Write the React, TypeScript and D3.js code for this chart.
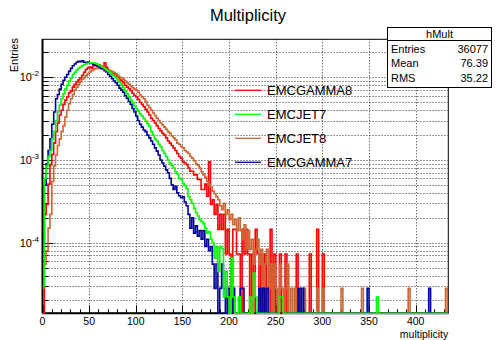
import React from 'react';
import * as d3 from 'd3';

const W = 496;
const H = 340;
const UNIT = 1e-4; // values below are in units of 1e-4
const BIN_WIDTH = 2;
const X_MAX = 435;
const Y_MIN = 1.4e-5;
const Y_MAX = 0.0288;

const categories = ['EMCGAMMA8', 'EMCJET7', 'EMCJET8', 'EMCGAMMA7'];
const xTickValues = [0, 50, 100, 150, 200, 250, 300, 350, 400];
const yMajorTicks = [1e-4, 1e-3, 1e-2];
const yTickLabels = ['-4', '-3', '-2'];
const statsRows = [['Entries', '36077'], ['Mean', '76.39'], ['RMS', '35.22']];

// EMCGAMMA8 (red), 2-unit bins from 0
const gamma8Values = [
  0, 2.2, 2.9, 5.1, 8.8, 11.7, 16, 22, 28, 35,
  40, 47, 53, 58, 65, 68, 76, 82, 88, 93,
  98, 106, 115, 124, 130, 133, 128, 138, 141, 136,
  142, 137, 134, 150, 132, 122, 117, 113, 110, 105,
  100, 94, 90, 86, 80, 76, 73, 69, 64, 60,
  58, 54, 50, 47, 44, 41, 38, 35, 32, 30,
  28, 26, 24, 22.5, 21, 20, 18.5, 17, 16, 15,
  14, 13, 12, 11, 10.5, 9.5, 9.2, 8.8, 8.0, 7.3,
  7.3, 6.6, 6.6, 5.8, 5.8, 4.4, 4.4, 5.1, 3.65, 9.5,
  2.9, 3.3, 2.2, 2.9, 1.45, 2.2, 1.45, 2.2, 0.73, 1.45,
  0.73, 0, 1.45, 1.45, 0.73, 0.73, 0, 1.45, 0.73, 1.45,
  0.73, 0, 0.73, 0, 1.45, 0.73, 0, 0.73, 0, 0.73,
  0, 0, 1.45, 0, 0.73, 0, 0, 0.73, 0, 0,
  0.73, 0, 0, 0, 0, 0, 0.73, 0, 0, 0,
  0, 0, 0, 0.73, 0, 0, 0, 1.45, 0, 0,
  0.73,
];

// EMCJET7 (green)
const jet7Values = [
  0.3, 6, 8.5, 11, 13, 18, 22, 30, 38, 46,
  55, 63, 72, 80, 90, 98, 108, 115, 122, 128,
  133, 138, 142, 145, 148, 149, 150, 149, 147, 145,
  140, 136, 132, 127, 122, 118, 113, 108, 104, 99,
  93, 87, 81, 75, 68, 63, 58, 53, 49, 45,
  42, 39, 36, 34, 31.5, 29.5, 27.5, 25.5, 22, 20,
  18, 17, 15.5, 14.5, 13, 12, 11, 10, 9.2, 8.6,
  8.0, 7.2, 6.8, 6.0, 5.8, 5.2, 4.9, 4.5, 3.6, 3.3,
  3.0, 2.6, 2.3, 2.1, 1.9, 1.8, 1.7, 1.5, 1.3, 1.35,
  1.1, 1.0, 0.65, 0.9, 0.45, 0.9, 0.85, 0.22, 0.45, 0.22,
  0, 0.65, 0.22, 0, 0, 0.22, 0, 0, 0, 0,
  0, 0.22, 0, 0.43, 0.22, 0, 0, 0, 0, 0,
  0, 0, 0, 0, 0, 0, 0, 0.22, 0.22,
];

// EMCJET8 (orange)
const jet8Values = [
  0.28, 0.55, 0.8, 1.5, 2.2, 5.5, 8.5, 11.5, 15, 18,
  22, 26, 33, 40, 48, 55, 62, 70, 76, 82,
  88, 95, 99, 104, 110, 116, 120, 124, 127, 129,
  128, 130, 128, 127, 125, 123, 120, 117, 114, 111,
  106, 101, 98, 95, 90, 86, 83, 79, 75, 72,
  70, 66, 61, 58, 55, 51, 46, 43, 40, 37,
  34.5, 32, 30, 28, 26.5, 25, 23.5, 22, 21, 19.5,
  18.5, 17.5, 16, 15.5, 14.5, 14, 13, 12.5, 12, 11,
  10.5, 9.8, 9.0, 8.6, 8.0, 7.2, 6.6, 6.2, 5.5, 5.0,
  4.7, 4.2, 3.9, 3.6, 3.3, 2.8, 2.5, 3.0, 2.2, 2.5,
  1.9, 2.2, 1.65, 1.9, 1.4, 2.0, 1.4, 1.1, 1.65, 0.83,
  1.4, 0.83, 1.1, 0.55, 0.83, 1.1, 0.55, 0.83, 0.28, 0.55,
  0.83, 0.28, 0.55, 0, 0.55, 0.28, 0, 0.55, 0.28, 0,
  0.28, 0.55, 0, 0.28, 0, 0.28, 0, 0.28, 0, 0,
  0.28,
];

// EMCGAMMA7 (blue)
const gamma7Values = [
  1.0, 5, 9, 13, 18, 27, 38, 55, 62, 72,
  82, 92, 100, 108, 118, 128, 138, 145, 152, 156,
  154, 158, 152, 150, 153, 147, 148, 143, 140, 137,
  134, 128, 126, 120, 116, 108, 103, 96, 90, 86,
  80, 74, 70, 66, 60, 56, 51, 47, 42, 38,
  34, 30, 27, 25, 23, 22, 20, 18.5, 17, 15.5,
  14, 12.8, 11.5, 10, 9.2, 8.4, 7.6, 7.0, 6.0, 5.0,
  4.4, 4.8, 4.0, 3.7, 3.5, 3.6, 3.1, 2.8, 2.2, 1.5,
  2.0, 1.3, 1.6, 1.2, 1.4, 1.1, 1.4, 0.9, 1.1, 0.8,
  0.9, 0.55, 0.28, 0.55, 0, 0.28, 0.55, 0.28, 0, 0.28,
  0, 0, 0.28, 0, 0, 0, 0.28, 0.28, 0, 0,
  0, 0, 0, 0, 0, 0, 0.28, 0, 0.28, 0,
  0.28, 0, 0, 0, 0, 0, 0, 0, 0, 0,
  0, 0, 0, 0, 0, 0, 0, 0.28, 0, 0.28,
];

// isolated far-tail entries: [multiplicity, value]
const gamma8Spikes: [number, number][] = [];
const jet7Spikes: [number, number][] = [[358, 0.22]];
const jet8Spikes: [number, number][] = [[294, 0.28], [300, 0.28], [320, 0.28], [342, 0.28], [392, 0.28], [432, 0.28]];
const gamma7Spikes: [number, number][] = [[348, 0.28], [414, 0.28]];

const colors = ['#ff0000', '#00ff00', '#cc6633', '#000099'];

const seriesList = [
  { name: categories[0], values: gamma8Values, spikes: gamma8Spikes, color: colors[0] },
  { name: categories[1], values: jet7Values, spikes: jet7Spikes, color: colors[1] },
  { name: categories[2], values: jet8Values, spikes: jet8Spikes, color: colors[2] },
  { name: categories[3], values: gamma7Values, spikes: gamma7Spikes, color: colors[3] },
];
const drawOrder = [0, 2, 3, 1];

const FONT = '"Liberation Sans", Arial, Helvetica, sans-serif';

export default function App() {
  const left = 42.5, right = 448.3, top = 39.3, bottom = 313.3;
  const x = d3.scaleLinear().domain([0, X_MAX]).range([left, right]);
  const y = d3.scaleLog().domain([Y_MIN, Y_MAX]).range([bottom, top]);

  const nBins = Math.ceil(X_MAX / BIN_WIDTH);
  const binValues = (s: typeof seriesList[number]) => {
    const arr = d3.range(nBins).map((i) => s.values[i] ?? 0);
    s.spikes.forEach(([m, v]) => { arr[Math.floor(m / BIN_WIDTH)] = v; });
    return arr;
  };
  const histPath = (arr: number[]) => {
    let d = '';
    arr.forEach((raw, i) => {
      const v = raw * UNIT;
      const yy = v > Y_MIN ? y(v) : bottom;
      const x0 = x(i * BIN_WIDTH);
      const x1 = x((i + 1) * BIN_WIDTH);
      d += (i === 0 ? `M${x0},${yy}` : `L${x0},${yy}`) + `L${x1},${yy}`;
    });
    return d;
  };

  const yMinor: number[] = [];
  for (let e = -5; e <= -1; e++) {
    for (let k = 1; k <= 9; k++) {
      const v = k * Math.pow(10, e);
      if (v > Y_MIN && v < Y_MAX) yMinor.push(v);
    }
  }
  const xMinor = d3.range(0, X_MAX + 1, 10);

  const legendY0 = 90.3;
  const legendStep = 24;

  return (
    <svg width={W} height={H} style={{ position: 'absolute', left: 0, top: 0, background: '#fff' }}
      fontFamily={FONT}>
      <rect x={0} y={0} width={W} height={H} fill="#fff" />
      <defs>
        <clipPath id="plotClip">
          <rect x={left} y={top} width={right - left} height={bottom - top + 1} />
        </clipPath>
      </defs>
      {/* grid */}
      <g stroke="#000" strokeWidth={1} strokeDasharray="1,2" opacity={0.8}>
        {yMinor.map((v) => (
          <line key={'gy' + v} x1={left} x2={right} y1={Math.round(y(v)) + 0.5} y2={Math.round(y(v)) + 0.5} />
        ))}
        {xTickValues.filter((t) => t > 0).map((t) => (
          <line key={'gx' + t} x1={Math.round(x(t)) + 0.5} x2={Math.round(x(t)) + 0.5} y1={top} y2={bottom} />
        ))}
      </g>
      {/* axes ticks */}
      <g stroke="#000" strokeWidth={1}>
        {yMinor.map((v) => {
          const major = yMajorTicks.some((m) => Math.abs(m - v) / v < 1e-6);
          const yy = Math.round(y(v)) + 0.5;
          return <line key={'ty' + v} x1={left} x2={left + (major ? 11 : 6)} y1={yy} y2={yy} />;
        })}
        {xMinor.map((t) => {
          const major = t % 50 === 0;
          const xx = Math.round(x(t)) + 0.5;
          return <line key={'tx' + t} x1={xx} x2={xx} y1={bottom} y2={bottom - (major ? 8 : 4)} />;
        })}
      </g>
      <rect x={left} y={top} width={right - left} height={bottom - top} fill="none" stroke="#000" strokeWidth={1} />
      <line x1={left} x2={left} y1={top} y2={bottom} stroke="#000" strokeWidth={2} />
      <line x1={left} x2={right} y1={bottom} y2={bottom} stroke="#000" strokeWidth={2} />

      {/* histograms */}
      <g clipPath="url(#plotClip)" fill="none" strokeWidth={1.6} strokeLinejoin="miter">
        {drawOrder.map((idx) => {
          const s = seriesList[idx];
          return <path key={s.name} d={histPath(binValues(s))} stroke={s.color} />;
        })}
      </g>

      {/* y tick labels */}
      {yMajorTicks.map((v, i) => (
        <text key={'yl' + v} x={39} y={y(v) + 4} textAnchor="end" fontSize={11} fill="#000">
          <tspan>10</tspan>
          <tspan dy={-5} fontSize={8}>{yTickLabels[i]}</tspan>
        </text>
      ))}
      {/* x tick labels */}
      {xTickValues.map((t) => (
        <text key={'xl' + t} x={x(t)} y={324.5} textAnchor="middle" fontSize={10.5} fill="#000">{t}</text>
      ))}
      <text x={right} y={337.5} textAnchor="end" fontSize={10.5} fill="#000">multiplicity</text>
      <text transform={`translate(18,38) rotate(-90)`} textAnchor="end" fontSize={11} fill="#000">Entries</text>

      {/* title */}
      <text x={248} y={21} textAnchor="middle" fontSize={16.5} fill="#000">Multiplicity</text>

      {/* legend */}
      {seriesList.map((s, i) => (
        <g key={'lg' + s.name}>
          <line x1={235} x2={261} y1={legendY0 + i * legendStep} y2={legendY0 + i * legendStep} stroke={s.color} strokeWidth={1.3} />
          <text x={267} y={legendY0 + i * legendStep + 5} fontSize={13} fill="#000">{s.name}</text>
        </g>
      ))}

      {/* stats box */}
      <rect x={387.5} y={27.5} width={104} height={60} fill="#fff" stroke="#000" strokeWidth={1} />
      <line x1={387.5} x2={491.5} y1={40.5} y2={40.5} stroke="#000" strokeWidth={1} />
      <text x={439.5} y={37.5} textAnchor="middle" fontSize={11} fill="#000">hMult</text>
      {statsRows.map(([k, v], i) => (
        <g key={'st' + k}>
          <text x={391} y={52.5 + i * 14.5} fontSize={11} fill="#000">{k}</text>
          <text x={488} y={52.5 + i * 14.5} textAnchor="end" fontSize={11} fill="#000">{v}</text>
        </g>
      ))}
    </svg>
  );
}
